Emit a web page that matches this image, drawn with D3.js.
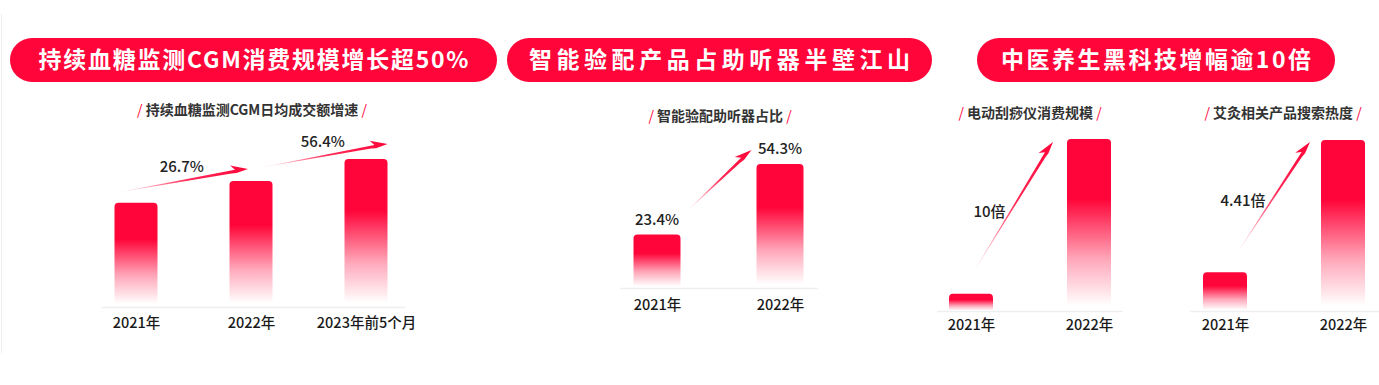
<!DOCTYPE html>
<html><head><meta charset="utf-8">
<script src="https://cdn.jsdelivr.net/npm/d3@7/dist/d3.min.js"></script>
<style>
html,body{margin:0;padding:0;background:#fff;}
svg{display:block;font-family:"Noto Sans CJK SC","Noto Sans",sans-serif;}
</style></head><body>
<svg id="chart" width="1379" height="385"></svg>
<script>
// ---------- data ----------
const headlines = ["持续血糖监测CGM消费规模增长超50%", "智能验配产品占助听器半壁江山", "中医养生黑科技增幅逾10倍"];

const cgmTitle = "持续血糖监测CGM日均成交额增速";
const cgmCategories = ["2021年", "2022年", "2023年前5个月"];
const cgmValues = [100, 121, 142];          // relative index
const cgmGrowth = ["26.7%", "56.4%"];

const hearTitle = "智能验配助听器占比";
const hearCategories = ["2021年", "2022年"];
const hearValues = [23.4, 54.3];
const hearLabels = ["23.4%", "54.3%"];

const guashaTitle = "电动刮痧仪消费规模";
const guashaCategories = ["2021年", "2022年"];
const guashaValues = [1, 10];
const guashaGrowth = "10倍";

const moxaTitle = "艾灸相关产品搜索热度";
const moxaCategories = ["2021年", "2022年"];
const moxaValues = [1, 4.41];
const moxaGrowth = "4.41倍";

// ---------- drawing ----------
const RED = "#ff0539";
const svg = d3.select("#chart");
const defs = svg.append("defs");

const bg = defs.append("linearGradient").attr("id", "barGrad")
  .attr("x1", 0).attr("y1", 0).attr("x2", 0).attr("y2", 1);
bg.append("stop").attr("offset", 0).attr("stop-color", RED).attr("stop-opacity", 1);
bg.append("stop").attr("offset", 0.35).attr("stop-color", RED).attr("stop-opacity", 1);
bg.append("stop").attr("offset", 0.7).attr("stop-color", RED).attr("stop-opacity", 0.35);
bg.append("stop").attr("offset", 0.97).attr("stop-color", RED).attr("stop-opacity", 0.0);

// page frame line
svg.append("line").attr("x1", 1.5).attr("x2", 1.5).attr("y1", 14).attr("y2", 353)
  .attr("stroke", "#eeeeee").attr("stroke-width", 1);

// headline pills
const pills = [
  {x0: 10, x1: 497, tw: 430},
  {x0: 507, x1: 932, tw: 381},
  {x0: 977, x1: 1335, tw: 310}
];
pills.forEach((p, i) => {
  svg.append("rect").attr("x", p.x0).attr("y", 38).attr("width", p.x1 - p.x0).attr("height", 44)
    .attr("rx", 22).attr("fill", RED);
  svg.append("text").attr("x", (p.x0 + p.x1) / 2).attr("y", 60).attr("dy", "0.36em")
    .attr("text-anchor", "middle").attr("fill", "#fff").attr("font-size", 23).attr("font-weight", 700)
    .attr("textLength", p.tw).attr("lengthAdjust", "spacing")
    .text(headlines[i]);
});

function subtitle(cx, cy, txt) {
  const t = svg.append("text").attr("x", cx).attr("y", cy).attr("dy", "0.36em")
    .attr("text-anchor", "middle").attr("font-size", 14).attr("font-weight", 700).attr("fill", "#333");
  t.append("tspan").attr("fill", RED).attr("font-weight", 400).text("/ ");
  t.append("tspan").text(txt);
  t.append("tspan").attr("fill", RED).attr("font-weight", 400).text(" /");
}

let arrowId = 0;
function arrow(s, e) {
  const id = "arrowGrad" + (arrowId++);
  const g = defs.append("linearGradient").attr("id", id).attr("gradientUnits", "userSpaceOnUse")
    .attr("x1", s[0]).attr("y1", s[1]).attr("x2", e[0]).attr("y2", e[1]);
  g.append("stop").attr("offset", 0).attr("stop-color", RED).attr("stop-opacity", 0);
  g.append("stop").attr("offset", 0.55).attr("stop-color", RED).attr("stop-opacity", 0.85);
  g.append("stop").attr("offset", 1).attr("stop-color", RED).attr("stop-opacity", 1);
  const dx = e[0] - s[0], dy = e[1] - s[1], L = Math.hypot(dx, dy);
  const ux = dx / L, uy = dy / L;         // direction
  const nx = uy, ny = -ux;                // left normal (screen coords)
  const headLen = 17, shaftW = 1.5;
  const hb = [e[0] - ux * headLen, e[1] - uy * headLen];
  const pt = (b, o) => [b[0] + nx * o, b[1] + ny * o];
  const pts = [
    s,
    pt(hb, -shaftW), pt([hb[0] + ux * 5, hb[1] + uy * 5], -shaftW - 0.5),
    e,
    pt(hb, 6.5),
    pt([hb[0] + ux * 4, hb[1] + uy * 4], shaftW),
  ];
  svg.append("path").attr("d", "M" + pts.map(p => p.join(",")).join("L") + "Z")
    .attr("fill", `url(#${id})`);
}

function panel(cfg) {
  const x = d3.scalePoint().domain(cfg.cats).range(cfg.xr);
  const y = d3.scaleLinear().domain([0, cfg.vmax]).range([cfg.base, cfg.top]);
  const bw = cfg.bw;
  svg.append("line").attr("x1", cfg.line[0]).attr("x2", cfg.line[1])
    .attr("y1", cfg.base + 0.5).attr("y2", cfg.base + 0.5).attr("stroke", "#efefef").attr("stroke-width", 1.5);
  svg.append("g").selectAll("path").data(cfg.vals).join("path")
    .attr("d", (d, i) => {
      const x0 = x(cfg.cats[i]) - bw / 2, yt = y(d), r = 4;
      return `M${x0},${cfg.base}V${yt + r}Q${x0},${yt} ${x0 + r},${yt}H${x0 + bw - r}Q${x0 + bw},${yt} ${x0 + bw},${yt + r}V${cfg.base}Z`;
    })
    .attr("fill", "url(#barGrad)");
  const ax = d3.axisBottom(x).tickSize(0).tickPadding(0);
  const ga = svg.append("g").attr("transform", `translate(0,${cfg.labelY})`).call(ax);
  ga.select(".domain").remove();
  ga.selectAll("text").attr("font-size", 14.5).attr("font-weight", 500).attr("fill", "#1a1a1a")
    .attr("font-family", '"Noto Sans CJK SC","Noto Sans",sans-serif').attr("dy", "0.36em").attr("y", 0);
  subtitle(cfg.subX, cfg.subY, cfg.title);
  return {x, y, bw};
}

function valueText(px, py, txt, anchor) {
  svg.append("text").attr("x", px).attr("y", py).attr("dy", "0.36em")
    .attr("text-anchor", anchor || "middle").attr("font-size", 15).attr("font-weight", 500)
    .attr("fill", "#222").text(txt);
}

// Panel 1
{
  const p = panel({cats: cgmCategories, vals: cgmValues, xr: [136, 366], bw: 43, vmax: 142,
    base: 307, top: 159, line: [102, 405], labelY: 323, subX: 252, subY: 110, title: cgmTitle});
  const xs = cgmCategories.map(c => p.x(c)), ys = cgmValues.map(v => p.y(v));
  const a1s = [xs[0] - p.bw / 2 + 1, ys[0] - 10], a1e = [xs[1] - 3, ys[1] - 12];
  const a2s = [xs[1] + 7, ys[1] - 13], a2e = [xs[2] + p.bw / 2, ys[2] - 15];
  arrow(a1s, a1e); arrow(a2s, a2e);
  valueText((a1s[0] + a1e[0]) / 2, (a1s[1] + a1e[1]) / 2 - 14, cgmGrowth[0]);
  valueText((a2s[0] + a2e[0]) / 2, (a2s[1] + a2e[1]) / 2 - 14, cgmGrowth[1]);
}
// Panel 2
{
  const p = panel({cats: hearCategories, vals: hearValues, xr: [657, 780], bw: 47, vmax: 54.3,
    base: 288, top: 164, line: [620, 818], labelY: 305, subX: 720, subY: 116, title: hearTitle});
  const xs = hearCategories.map(c => p.x(c)), ys = hearValues.map(v => p.y(v));
  hearLabels.forEach((t, i) => valueText(xs[i], ys[i] - 15, t));
  arrow([xs[0] + p.bw / 2 + 5, ys[0] - 22], [xs[1] - p.bw / 2 - 5, ys[1] - 14]);
}
// Panel 3a
{
  const p = panel({cats: guashaCategories, vals: guashaValues, xr: [971, 1089], bw: 44, vmax: 10,
    base: 311, top: 139, line: [937, 1123], labelY: 325, subX: 1030, subY: 113, title: guashaTitle});
  const xs = guashaCategories.map(c => p.x(c)), ys = guashaValues.map(v => p.y(v));
  const s = [xs[0] - 1, ys[0] - 16], e = [xs[1] - p.bw / 2 - 14, ys[1] + 3];
  arrow(s, e);
  valueText((s[0] + e[0]) / 2 - 6, (s[1] + e[1]) / 2 + 2, guashaGrowth, "end");
}
// Panel 3b
{
  const p = panel({cats: moxaCategories, vals: moxaValues, xr: [1225, 1343], bw: 44, vmax: 4.41,
    base: 311, top: 140, line: [1190, 1379], labelY: 325, subX: 1283, subY: 113, title: moxaTitle});
  const xs = moxaCategories.map(c => p.x(c)), ys = moxaValues.map(v => p.y(v));
  const s = [xs[0] + 10, ys[0] - 16], e = [xs[1] - p.bw / 2 - 11, ys[1] + 2];
  arrow(s, e);
  valueText((s[0] + e[0]) / 2 - 7, (s[1] + e[1]) / 2 + 1, moxaGrowth, "end");
}
</script>
</body></html>
